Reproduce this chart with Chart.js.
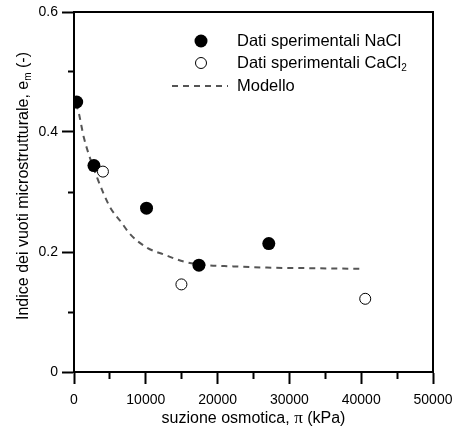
<!DOCTYPE html>
<html>
<head>
<meta charset="utf-8">
<script src="https://cdn.jsdelivr.net/npm/chart.js@4"></script>
<style>
  html, body { margin: 0; padding: 0; background: #fff; }
  #wrap { width: 455px; height: 430px; }
</style>
</head>
<body>
<div id="wrap"><canvas id="chart" width="455" height="430"></canvas></div>
<script>
// dati
const naclX = [375, 2780, 10100, 17400, 27130];
const naclY = [0.45, 0.344, 0.273, 0.178, 0.214];
const caclX = [4030, 14960, 40560];
const caclY = [0.334, 0.146, 0.122];
const modelX = [0, 460, 1390, 2080, 3250, 4170, 5100, 6490, 7880, 10190, 12500, 15280, 17600, 22200, 26860, 33000, 40280];
const modelY = [0.445, 0.44, 0.39, 0.362, 0.323, 0.296, 0.273, 0.251, 0.229, 0.207, 0.196, 0.184, 0.179, 0.176, 0.174, 0.173, 0.172];

// tacche principali (con etichetta) e secondarie
const xTicks = [0, 5000, 10000, 15000, 20000, 25000, 30000, 35000, 40000, 45000, 50000];
const xLabelled = [0, 10000, 20000, 30000, 40000, 50000];
const yTicks = [0, 0.1, 0.2, 0.3, 0.4, 0.5, 0.6];
const yLabelled = [0, 0.2, 0.4, 0.6];

const legendLabels = ["Dati sperimentali NaCl", "Dati sperimentali CaCl", "Modello"];

const FONT = "'Liberation Sans', Arial, sans-serif";

function pts(xs, ys) {
  return xs.map((x, i) => ({ x: x, y: ys[i] }));
}

function isMajor(list, v) {
  return list.some((m) => Math.abs(m - v) < 1e-9);
}

// cornice, titoli degli assi e legenda con pedici
const extras = {
  id: "extras",
  afterDraw(chart) {
    const ctx = chart.ctx;
    const a = chart.chartArea;
    ctx.save();
    ctx.strokeStyle = "#000";
    ctx.lineWidth = 2;
    ctx.beginPath();
    ctx.moveTo(a.left, a.top);
    ctx.lineTo(a.right, a.top);
    ctx.lineTo(a.right, a.bottom);
    ctx.stroke();

    ctx.fillStyle = "#000";
    ctx.textBaseline = "alphabetic";

    // titolo asse x
    const p1 = "suzione osmotica, ";
    const p2 = "\u03c0";
    const p3 = " (kPa)";
    ctx.font = "16px " + FONT;
    const w1 = ctx.measureText(p1).width;
    const w3 = ctx.measureText(p3).width;
    ctx.font = "17px 'Liberation Serif', serif";
    const w2 = ctx.measureText(p2).width;
    let x0 = (a.left + a.right) / 2 - (w1 + w2 + w3) / 2;
    const yb = 423;
    ctx.textAlign = "left";
    ctx.font = "16px " + FONT;
    ctx.fillText(p1, x0, yb);
    ctx.font = "17px 'Liberation Serif', serif";
    ctx.fillText(p2, x0 + w1, yb);
    ctx.font = "16px " + FONT;
    ctx.fillText(p3, x0 + w1 + w2, yb);

    // titolo asse y
    const q1 = "Indice dei vuoti microstrutturale, e";
    const q2 = "m";
    const q3 = " (-)";
    ctx.font = "16px " + FONT;
    const v1 = ctx.measureText(q1).width;
    const v3 = ctx.measureText(q3).width;
    ctx.font = "10px " + FONT;
    const v2 = ctx.measureText(q2).width;
    ctx.translate(28, 186);
    ctx.rotate(-Math.PI / 2);
    let s0 = -(v1 + v2 + v3) / 2;
    ctx.font = "16px " + FONT;
    ctx.fillText(q1, s0, 0);
    ctx.font = "10px " + FONT;
    ctx.fillText(q2, s0 + v1, 3);
    ctx.font = "16px " + FONT;
    ctx.fillText(q3, s0 + v1 + v2, 0);
    ctx.restore();

    // legenda
    ctx.save();
    const rows = [41, 63, 86];
    const ds = chart.data.datasets;
    ctx.font = "16.5px " + FONT;
    ctx.textBaseline = "middle";
    ctx.textAlign = "left";
    // NaCl
    ctx.beginPath();
    ctx.arc(201, rows[0], ds[0].pointRadius, 0, Math.PI * 2);
    ctx.fillStyle = ds[0].pointBackgroundColor;
    ctx.fill();
    // CaCl2
    ctx.beginPath();
    ctx.arc(201, rows[1], ds[1].pointRadius, 0, Math.PI * 2);
    ctx.fillStyle = ds[1].pointBackgroundColor;
    ctx.fill();
    ctx.lineWidth = ds[1].pointBorderWidth;
    ctx.strokeStyle = ds[1].pointBorderColor;
    ctx.stroke();
    // Modello
    ctx.beginPath();
    ctx.setLineDash(ds[2].borderDash);
    ctx.strokeStyle = ds[2].borderColor;
    ctx.lineWidth = ds[2].borderWidth;
    ctx.moveTo(172, rows[2]);
    ctx.lineTo(228, rows[2]);
    ctx.stroke();
    ctx.setLineDash([]);

    ctx.fillStyle = "#000";
    ctx.fillText(legendLabels[0], 237, rows[0]);
    ctx.fillText(legendLabels[1], 237, rows[1]);
    const wc = ctx.measureText(legendLabels[1]).width;
    ctx.font = "10px " + FONT;
    ctx.fillText("2", 237 + wc, rows[1] + 5);
    ctx.font = "16.5px " + FONT;
    ctx.fillText(legendLabels[2], 237, rows[2]);
    ctx.restore();
  }
};

new Chart(document.getElementById("chart"), {
  type: "scatter",
  data: {
    datasets: [
      {
        label: legendLabels[0],
        data: pts(naclX, naclY),
        pointRadius: 6.5,
        pointBackgroundColor: "#000",
        pointBorderColor: "#000",
        pointBorderWidth: 0,
        showLine: false,
        order: 1
      },
      {
        label: legendLabels[1],
        data: pts(caclX, caclY),
        pointRadius: 5.5,
        pointBackgroundColor: "#fff",
        pointBorderColor: "#000",
        pointBorderWidth: 1,
        showLine: false,
        order: 0
      },
      {
        label: legendLabels[2],
        data: pts(modelX, modelY),
        showLine: true,
        pointRadius: 0,
        borderColor: "#555",
        borderWidth: 2,
        borderDash: [6, 5],
        cubicInterpolationMode: "monotone",
        fill: false,
        order: 2
      }
    ]
  },
  options: {
    responsive: false,
    animation: false,
    layout: { padding: { top: 12, right: 22, left: 0, bottom: 0 } },
    plugins: {
      legend: { display: false },
      tooltip: { enabled: false }
    },
    scales: {
      x: {
        type: "linear",
        position: "bottom",
        min: 0,
        max: 50000,
        afterBuildTicks: (s) => { s.ticks = xTicks.map((v) => ({ value: v })); },
        afterFit: (s) => { s.height = 58; s.paddingLeft = 0; s.paddingRight = 0; },
        ticks: {
          color: "#000",
          font: { family: FONT, size: 14 },
          padding: 8,
          maxRotation: 0,
          autoSkip: false,
          callback: (v) => (isMajor(xLabelled, v) ? String(v) : "")
        },
        grid: {
          drawOnChartArea: false,
          tickLength: 12,
          tickColor: "#000",
          tickWidth: 2,
          tickBorderDash: (c) => (c.tick && isMajor(xLabelled, c.tick.value) ? [] : [6, 40])
        },
        border: { color: "#000", width: 2 }
      },
      y: {
        type: "linear",
        position: "left",
        min: 0,
        max: 0.6,
        afterBuildTicks: (s) => { s.ticks = yTicks.map((v) => ({ value: v })); },
        afterFit: (s) => { s.width = 74; s.paddingTop = 0; s.paddingBottom = 0; },
        ticks: {
          color: "#000",
          font: { family: FONT, size: 14 },
          padding: 4,
          autoSkip: false,
          callback: (v) => (isMajor(yLabelled, v) ? String(v) : "")
        },
        grid: {
          drawOnChartArea: false,
          tickLength: 12,
          tickColor: "#000",
          tickWidth: 2,
          tickBorderDash: (c) => (c.tick && isMajor(yLabelled, c.tick.value) ? [] : [0, 6, 8, 40])
        },
        border: { color: "#000", width: 2 }
      }
    }
  },
  plugins: [extras]
});
</script>
</body>
</html>
